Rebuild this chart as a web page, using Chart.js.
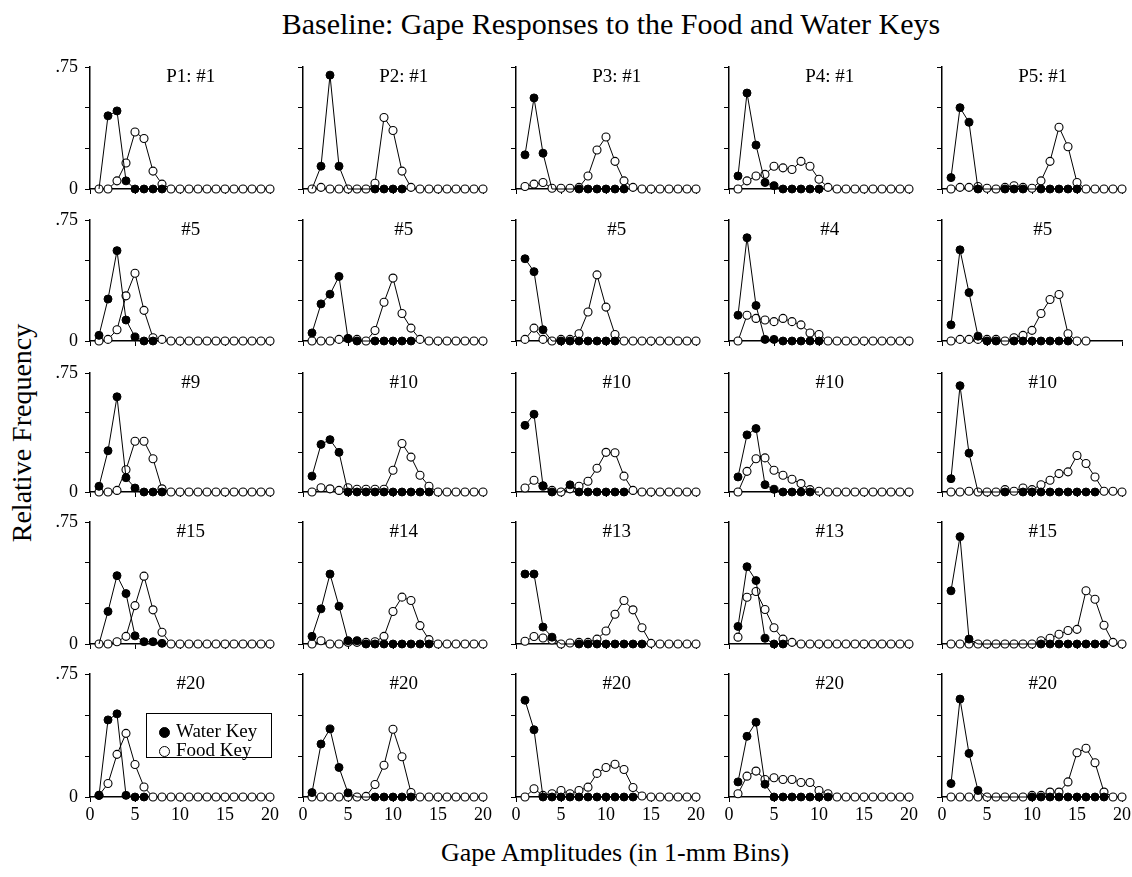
<!DOCTYPE html>
<html>
<head>
<meta charset="utf-8">
<script src="https://cdn.jsdelivr.net/npm/chart.js@4.4.1/dist/chart.umd.min.js"></script>
<style>
  body { margin: 0; background: #fff; width: 1132px; height: 877px; position: relative; overflow: hidden;
         font-family: "Liberation Serif", "Times New Roman", serif; color: #000; }
  canvas { position: absolute; }
  .txt { position: absolute; white-space: nowrap; }
  #legend { position: absolute; left: 146px; top: 713px; width: 124px; height: 43px; border: 1px solid #000;
            background: #fff; font-size: 19px; }
  #legend div { position: absolute; left: 29px; }
  #legend span { position: absolute; left: -17px; top: 5px; width: 9px; height: 9px; border-radius: 50%;
                 border: 1px solid #000; }
</style>
</head>
<body>
<div class="txt" style="left:0;width:1222px;top:7px;text-align:center;font-size:30px">Baseline: Gape Responses to the Food and Water Keys</div>
<div class="txt" style="left:22px;top:433px;font-size:28px;transform:translate(-50%,-50%) rotate(-90deg)">Relative Frequency</div>
<div class="txt" style="left:0;width:1230px;top:838px;text-align:center;font-size:26px">Gape Amplitudes (in 1-mm Bins)</div>

<script>
// panel titles, row by row
const panelLabels = [
  'P1: #1', 'P2: #1', 'P3: #1', 'P4: #1', 'P5: #1',
  '#5', '#5', '#5', '#4', '#5',
  '#9', '#10', '#10', '#10', '#10',
  '#15', '#14', '#13', '#13', '#15',
  '#20', '#20', '#20', '#20', '#20'
];

// relative frequency per 1-mm bin, starting at bin 1
const waterKey = [
  [0, 0.45, 0.48, 0.05, 0, 0, 0, 0],
  [0, 0.14, 0.70, 0.14, 0, 0, 0, 0, 0, 0, 0],
  [0.21, 0.56, 0.22, 0, 0, 0, 0, 0, 0, 0, 0, 0],
  [0.08, 0.59, 0.27, 0.04, 0.02, 0, 0, 0, 0, 0],
  [0.07, 0.50, 0.41, 0, 0, 0, 0, 0, 0, 0, 0, 0, 0, 0, 0],

  [0.035, 0.26, 0.56, 0.13, 0.025, 0, 0],
  [0.05, 0.23, 0.29, 0.40, 0.015, 0, 0, 0, 0, 0, 0, 0],
  [0.51, 0.43, 0.07, 0, 0, 0, 0, 0, 0, 0, 0],
  [0.16, 0.64, 0.22, 0.01, 0.01, 0, 0, 0, 0, 0],
  [0.10, 0.565, 0.30, 0.03, 0, 0, 0, 0, 0, 0, 0, 0, 0, 0],

  [0.036, 0.26, 0.60, 0.09, 0.025, 0, 0, 0],
  [0.10, 0.30, 0.33, 0.25, 0, 0, 0, 0, 0, 0, 0, 0, 0, 0],
  [0.42, 0.49, 0.04, 0, 0, 0.045, 0, 0, 0, 0, 0, 0],
  [0.095, 0.36, 0.40, 0.046, 0.017, 0, 0, 0, 0, 0],
  [0.084, 0.67, 0.245, 0, 0, 0, 0, 0, 0, 0, 0, 0, 0, 0, 0, 0, 0],

  [0, 0.20, 0.42, 0.31, 0.05, 0.014, 0.014, 0.004],
  [0.047, 0.216, 0.43, 0.232, 0.02, 0.02, 0, 0, 0, 0, 0, 0, 0, 0],
  [0.43, 0.43, 0.104, 0.042, 0, 0, 0, 0, 0, 0, 0, 0, 0, 0],
  [0.108, 0.475, 0.39, 0.035, 0, 0],
  [0.327, 0.66, 0.03, 0, 0, 0, 0, 0, 0, 0, 0, 0, 0, 0, 0, 0, 0, 0],

  [0.01, 0.47, 0.507, 0.01, 0, 0],
  [0.027, 0.323, 0.415, 0.18, 0.025, 0, 0, 0, 0, 0, 0, 0],
  [0.59, 0.41, 0, 0, 0, 0, 0, 0, 0, 0, 0, 0, 0],
  [0.092, 0.37, 0.456, 0.078, 0, 0, 0, 0, 0, 0, 0],
  [0.082, 0.597, 0.266, 0.04, 0, 0, 0, 0, 0, 0, 0, 0, 0, 0, 0, 0, 0, 0]
];

const foodKey = [
  [0, 0, 0.05, 0.16, 0.35, 0.31, 0.11, 0.03, 0, 0, 0, 0, 0, 0, 0, 0, 0, 0, 0, 0],
  [0, 0.01, 0, 0, 0, 0, 0, 0.035, 0.44, 0.36, 0.11, 0.01, 0, 0, 0, 0, 0, 0, 0, 0],
  [0.015, 0.03, 0.04, 0.005, 0.005, 0.005, 0.01, 0.08, 0.24, 0.32, 0.17, 0.05, 0.01, 0, 0, 0, 0, 0, 0, 0],
  [0, 0.05, 0.08, 0.09, 0.14, 0.13, 0.12, 0.17, 0.14, 0.06, 0.01, 0, 0, 0, 0, 0, 0, 0, 0, 0],
  [0, 0.01, 0.01, 0.015, 0.005, 0, 0.01, 0.02, 0.01, 0.005, 0.05, 0.17, 0.38, 0.26, 0.04, 0, 0, 0, 0, 0],

  [0, 0.01, 0.07, 0.28, 0.42, 0.19, 0.02, 0.01, 0, 0, 0, 0, 0, 0, 0, 0, 0, 0, 0, 0],
  [0, 0, 0, 0.01, 0.015, 0.01, 0, 0.065, 0.24, 0.39, 0.17, 0.08, 0.01, 0, 0, 0, 0, 0, 0, 0],
  [0.01, 0.08, 0.01, 0, 0.01, 0.01, 0.045, 0.18, 0.41, 0.21, 0.04, 0, 0, 0, 0, 0, 0, 0, 0, 0],
  [0, 0.16, 0.14, 0.13, 0.12, 0.14, 0.12, 0.10, 0.05, 0.04, 0, 0, 0, 0, 0, 0, 0, 0, 0, 0],
  [0, 0.01, 0.01, 0.01, 0.01, 0.01, 0, 0.02, 0.035, 0.066, 0.17, 0.257, 0.288, 0.045, 0, 0],

  [0, 0, 0.01, 0.14, 0.32, 0.32, 0.21, 0.02, 0, 0, 0, 0, 0, 0, 0, 0, 0, 0, 0, 0],
  [0, 0.027, 0.02, 0.01, 0.027, 0.017, 0.017, 0.017, 0.017, 0.137, 0.306, 0.22, 0.106, 0.036, 0, 0, 0, 0, 0, 0],
  [0.025, 0.074, 0.036, 0.01, 0, 0.02, 0.036, 0.068, 0.15, 0.25, 0.247, 0.10, 0.01, 0, 0, 0, 0, 0, 0, 0],
  [0, 0.13, 0.21, 0.215, 0.137, 0.106, 0.08, 0.053, 0.015, 0.005, 0, 0, 0, 0, 0, 0, 0, 0, 0, 0],
  [0, 0, 0.005, 0, 0, 0, 0.015, 0.005, 0.025, 0.015, 0.046, 0.074, 0.116, 0.127, 0.23, 0.18, 0.095, 0.005, 0.005, 0],

  [0, 0, 0.014, 0.047, 0.236, 0.417, 0.21, 0.072, 0, 0, 0, 0, 0, 0, 0, 0, 0, 0, 0, 0],
  [0, 0.02, 0, 0, 0.01, 0.01, 0.01, 0.014, 0.047, 0.20, 0.288, 0.267, 0.113, 0.027, 0, 0, 0, 0, 0, 0],
  [0.017, 0.046, 0.037, 0.025, 0, 0.006, 0.01, 0.01, 0.03, 0.08, 0.183, 0.267, 0.21, 0.10, 0.004, 0, 0, 0, 0, 0],
  [0.042, 0.287, 0.323, 0.212, 0.10, 0.03, 0.01, 0, 0, 0, 0, 0, 0, 0, 0, 0, 0, 0, 0, 0],
  [0, 0, 0, 0, 0, 0, 0, 0, 0, 0, 0.02, 0.035, 0.06, 0.083, 0.09, 0.327, 0.275, 0.115, 0.01, 0],

  [0.01, 0.082, 0.26, 0.388, 0.198, 0.061, 0, 0, 0, 0, 0, 0, 0, 0, 0, 0, 0, 0, 0, 0],
  [0, 0, 0, 0, 0, 0, 0.004, 0.076, 0.194, 0.413, 0.245, 0.027, 0, 0, 0, 0, 0, 0, 0, 0],
  [0, 0.05, 0.01, 0.02, 0.04, 0.02, 0.04, 0.06, 0.144, 0.18, 0.20, 0.168, 0.058, 0.006, 0, 0, 0, 0, 0, 0],
  [0.02, 0.127, 0.158, 0.107, 0.117, 0.107, 0.107, 0.088, 0.088, 0.04, 0.02, 0, 0, 0, 0, 0, 0, 0, 0, 0],
  [0, 0, 0, 0, 0, 0, 0, 0, 0, 0.01, 0.01, 0.03, 0.03, 0.092, 0.27, 0.297, 0.209, 0.03, 0, 0]
];

const yTickText = { 0: '0', 0.75: '.75' };

// page geometry of the plot boxes
const colLeft = [90, 303, 516, 729, 942];
const rowTop = [67, 220, 373, 522, 674];
const rowBottom = [189, 341, 492, 644, 797];
const plotW = 180, padL = 40, padR = 12, padT = 8, padB = 30;

Chart.defaults.font.family = '"Liberation Serif", "Times New Roman", serif';
Chart.defaults.font.size = 18;
Chart.defaults.color = '#000';

const panelLabel = {
  id: 'panelLabel',
  afterDraw(chart, args, opts) {
    const { ctx, scales } = chart;
    ctx.save();
    ctx.font = '19px "Liberation Serif", serif';
    ctx.fillStyle = '#000';
    ctx.textAlign = 'center';
    ctx.textBaseline = 'middle';
    ctx.fillText(opts.text, scales.x.getPixelForValue(11.2), scales.y.getPixelForValue(0.69));
    ctx.restore();
  }
};

const toPoints = arr => arr.map((v, i) => ({ x: i + 1, y: v }));

for (let r = 0; r < 5; r++) {
  for (let c = 0; c < 5; c++) {
    const k = r * 5 + c;
    const h = rowBottom[r] - rowTop[r];
    const cv = document.createElement('canvas');
    cv.width = padL + plotW + padR;
    cv.height = padT + h + padB;
    cv.style.left = (colLeft[c] - padL) + 'px';
    cv.style.top = (rowTop[r] - padT) + 'px';
    document.body.appendChild(cv);

    const water = waterKey[k], food = foodKey[k];
    // a water dot lying at zero under an empty food circle is not seen
    const waterRadius = water.map((v, i) => (v === 0 && (food[i] || 0) < 0.01) ? 0 : 4);

    new Chart(cv, {
      type: 'line',
      data: {
        datasets: [{
          label: 'Water Key',
          data: toPoints(water),
          borderColor: '#000',
          borderWidth: 1,
          pointRadius: waterRadius,
          pointBackgroundColor: '#000',
          pointBorderColor: '#000',
          pointBorderWidth: 1,
          clip: false
        }, {
          label: 'Food Key',
          data: toPoints(food),
          borderColor: '#000',
          borderWidth: 1,
          pointRadius: 4,
          pointBackgroundColor: '#fff',
          pointBorderColor: '#000',
          pointBorderWidth: 1.1,
          clip: false
        }]
      },
      options: {
        responsive: false,
        animation: false,
        events: [],
        layout: { padding: { left: 0, right: padR, top: padT, bottom: 0 } },
        plugins: {
          legend: { display: false },
          tooltip: { enabled: false },
          panelLabel: { text: panelLabels[k] }
        },
        scales: {
          x: {
            type: 'linear', min: 0, max: 20,
            ticks: {
              stepSize: 5, padding: 2, maxRotation: 0,
              callback: v => (r === 4 ? String(v) : '')
            },
            grid: { drawOnChartArea: false, drawTicks: true, tickLength: 5, color: '#000', lineWidth: 1 },
            border: { color: '#000', width: 1.5 },
            afterFit: s => { s.height = padB; s.paddingLeft = 0; s.paddingRight = 0; }
          },
          y: {
            min: 0, max: 0.75,
            ticks: {
              stepSize: 0.25, padding: 7,
              callback: v => (c === 0 && yTickText[v] !== undefined ? yTickText[v] : '')
            },
            grid: { drawOnChartArea: false, drawTicks: true, tickLength: 5, color: '#000', lineWidth: 1 },
            border: { color: '#000', width: 1.5 },
            afterFit: s => { s.width = padL; s.paddingTop = 0; s.paddingBottom = 0; }
          }
        }
      },
      plugins: [panelLabel]
    });
  }
}
</script>

<div id="legend">
  <div style="top:8px;line-height:18px"><span style="background:#000"></span>Water Key</div>
  <div style="top:27px;line-height:18px"><span style="background:#fff"></span>Food Key</div>
</div>
</body>
</html>
